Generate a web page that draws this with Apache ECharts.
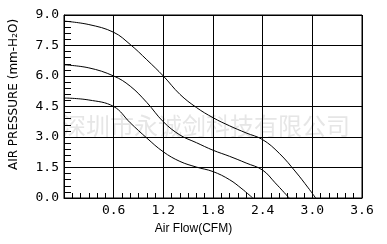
<!DOCTYPE html>
<html><head><meta charset="utf-8">
<script src="https://cdn.jsdelivr.net/npm/echarts@6/dist/echarts.min.js"></script>
<style>html,body{margin:0;padding:0;background:#fff}#c{width:387px;height:244px}</style>
</head><body><div id="c"></div>
<script>
const xTicks = [0, 0.6, 1.2, 1.8, 2.4, 3.0, 3.6];
const yTicks = [0, 1.5, 3.0, 4.5, 6.0, 7.5, 9.0];
const flowTop = [0, 0.3, 0.6, 0.8, 1.0, 1.2, 1.4, 1.6, 1.8, 2.0, 2.2, 2.4, 2.6, 2.8, 2.95, 3.04];
const pressTop = [8.7, 8.53, 8.15, 7.55, 6.8, 6.0, 5.1, 4.45, 3.95, 3.55, 3.2, 2.87, 2.2, 1.28, 0.5, 0];
const flowMid = [0, 0.3, 0.6, 0.8, 1.0, 1.2, 1.4, 1.6, 1.8, 2.0, 2.2, 2.4, 2.55, 2.72];
const pressMid = [6.55, 6.4, 6.0, 5.5, 4.7, 3.75, 3.1, 2.72, 2.35, 2.05, 1.72, 1.37, 0.75, 0];
const flowLow = [0, 0.3, 0.6, 0.8, 1.0, 1.2, 1.4, 1.6, 1.8, 2.0, 2.15, 2.28];
const pressLow = [4.92, 4.82, 4.5, 3.7, 2.95, 2.27, 1.8, 1.52, 1.3, 0.9, 0.45, 0];
const watermark = '深圳市永诚剑科技有限公司';

function pairs(xs, ys){ return xs.map((x,i)=>[x, ys[i]]); }
const lineSeries = (xs, ys) => ({
  type:'line', data: pairs(xs, ys), smooth: 0.4, showSymbol:false, z:5,
  lineStyle:{color:'#000', width:1}
});
const mono = '"DejaVu Sans Mono", monospace';
const chart = echarts.init(document.getElementById('c'));
chart.setOption({
  animation:false,
  backgroundColor:'#fff',
  grid:{left:62, right:25, top:15, bottom:46, show:true, borderColor:'#000', borderWidth:1},
  graphic:[{type:'text', left:62, top:114, z:-10, silent:true,
    style:{text:watermark, fill:'#e6e6e6', font:'24px "Noto Sans CJK SC"'}}],
  xAxis:{type:'value', min:xTicks[0], max:xTicks[xTicks.length-1], interval:0.6,
    name:'Air Flow(CFM)', nameLocation:'middle', nameGap:25,
    nameTextStyle:{color:'#000', fontSize:12, fontFamily:'"Liberation Sans"', padding:[0,39,0,0]},
    axisLine:{lineStyle:{color:'#000', width:1}},
    axisTick:{show:false, inside:true},
    minorTick:{show:true, splitNumber:6, length:5, lineStyle:{color:'#000', width:1}},
    minorSplitLine:{show:false},
    axisLabel:{color:'#000', fontSize:13, fontFamily:mono, margin:6,
      formatter:v=> v===0 ? '' : v.toFixed(1)},
    splitLine:{show:true, lineStyle:{color:'#000', width:1}}
  },
  yAxis:{type:'value', min:yTicks[0], max:yTicks[yTicks.length-1], interval:1.5,
    name:'AIR PRESSURE (mm-H₂O)', nameLocation:'middle', nameGap:44,
    nameTextStyle:{color:'#000', fontSize:12, fontFamily:'"DejaVu Sans"', padding:[0,0,0,24]},
    axisLine:{lineStyle:{color:'#000', width:1}},
    axisTick:{show:false, inside:true},
    minorTick:{show:true, splitNumber:5, length:7, lineStyle:{color:'#000', width:1}},
    axisLabel:{color:'#000', fontSize:13, fontFamily:mono, margin:5,
      formatter:v=> v.toFixed(1)},
    splitLine:{show:true, lineStyle:{color:'#000', width:1}}
  },
  series:[lineSeries(flowTop, pressTop), lineSeries(flowMid, pressMid), lineSeries(flowLow, pressLow)]
});
</script></body></html>
